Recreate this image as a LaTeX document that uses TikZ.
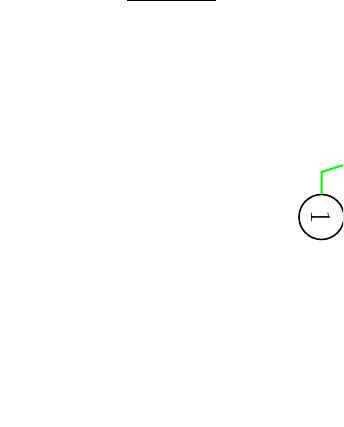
\documentclass[tikz,border=0pt]{standalone}
\begin{document}
\begin{tikzpicture}[x=1pt,y=1pt,
  statenode/.style={circle,draw=black,line width=1.6pt,minimum size=45pt,inner sep=0pt,font=\fontsize{29}{29}\selectfont},
  greenlink/.style={draw={rgb,255:red,0;green,255;blue,0},line width=2pt}]
\useasboundingbox (0,0) rectangle (343,427);
\clip (0,0) rectangle (343,427);
\fill[white] (0,0) rectangle (343,427);
\node[statenode] (s1) at (321.5,210) {\rotatebox{-90}{1}};
\coordinate (bend) at (321.5,255);
\coordinate (far) at (360,267);
\draw[greenlink] (s1.north) -- (bend) -- (far);
\coordinate (ta) at (127,427);
\coordinate (tb) at (216,427);
\draw[line width=3pt] (ta) -- (tb);
\end{tikzpicture}
\end{document}
